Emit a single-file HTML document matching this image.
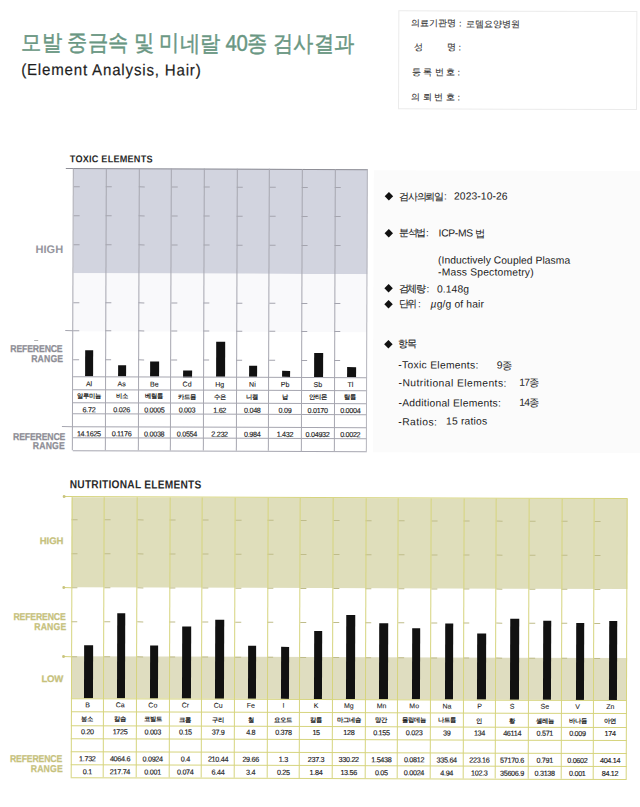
<!DOCTYPE html>
<html><head><meta charset="utf-8"><title>Hair Analysis</title>
<style>
html,body{margin:0;padding:0;background:#fff;}
body{width:640px;height:807px;overflow:hidden;position:relative;font-family:'Liberation Sans', sans-serif;}
#pg{position:absolute;left:0;top:0;width:640px;height:807px;transform:rotate(0.2deg);transform-origin:320px 403px;}
.t{position:absolute;white-space:nowrap;line-height:1;}
.r{position:absolute;}
</style></head><body><div id="pg">
<div class="t" style="top:32.50px;font-size:22.5px;color:#6a9783;font-weight:normal;transform:scaleX(0.9);transform-origin:left center;letter-spacing:-0.38px;left:20.07px;-webkit-text-stroke:0.45px #6a9783;">모발 중금속 및 미네랄 40종 검사결과</div>
<div class="t" style="top:62.70px;font-size:16px;color:#1e1e1e;font-weight:normal;transform:scaleX(0.94);transform-origin:left center;letter-spacing:0.88px;left:20.35px;-webkit-text-stroke:0.2px #1e1e1e;">(Element Analysis, Hair)</div>
<div class="r" style="left:397px;top:10px;width:239px;height:99px;border:1px solid #ebebeb;box-sizing:border-box;"></div>
<div class="t" style="top:18.56px;font-size:9px;color:#333;font-weight:normal;left:410.18px;-webkit-text-stroke:0.1px #333;">의료기관명 :&nbsp; 로뎀요양병원</div>
<div class="t" style="top:43.35px;font-size:9px;color:#333;font-weight:normal;left:412.77px;-webkit-text-stroke:0.1px #333;">성</div>
<div class="t" style="top:43.24px;font-size:9px;color:#333;font-weight:normal;left:445.77px;-webkit-text-stroke:0.1px #333;">명 :</div>
<div class="t" style="top:68.06px;font-size:9px;color:#333;font-weight:normal;left:410.36px;-webkit-text-stroke:0.1px #333;">등 록 번 호 :</div>
<div class="t" style="top:93.06px;font-size:9px;color:#333;font-weight:normal;left:410.44px;-webkit-text-stroke:0.1px #333;">의 뢰 번 호 :</div>
<div class="t" style="top:155.21px;font-size:10px;color:#2a2a2a;font-weight:bold;transform:scaleX(0.91);transform-origin:left center;letter-spacing:0.25px;left:68.56px;">TOXIC ELEMENTS</div>
<div class="r" style="left:72.67px;top:169.30px;width:294.03px;height:104.40px;background:#d2d4df;"></div>
<div class="r" style="left:72.67px;top:273.70px;width:294.03px;height:58.00px;background:#f9f9fb;"></div>
<div class="r" style="left:65.00px;top:168.80px;width:301.70px;height:1.00px;background:#8e8e96;"></div>
<div class="r" style="left:72.67px;top:187.10px;width:6.00px;height:1.00px;background:#a4a4ae;"></div>
<div class="r" style="left:72.67px;top:216.00px;width:6.00px;height:1.00px;background:#a4a4ae;"></div>
<div class="r" style="left:72.67px;top:244.60px;width:6.00px;height:1.00px;background:#a4a4ae;"></div>
<div class="r" style="left:72.67px;top:302.50px;width:6.00px;height:1.00px;background:#a4a4ae;"></div>
<div class="r" style="left:72.67px;top:331.20px;width:6.00px;height:1.00px;background:#a4a4ae;"></div>
<div class="r" style="left:72.67px;top:360.10px;width:6.00px;height:1.00px;background:#a4a4ae;"></div>
<div class="r" style="left:105.34px;top:187.10px;width:6.00px;height:1.00px;background:#a4a4ae;"></div>
<div class="r" style="left:105.34px;top:216.00px;width:6.00px;height:1.00px;background:#a4a4ae;"></div>
<div class="r" style="left:105.34px;top:244.60px;width:6.00px;height:1.00px;background:#a4a4ae;"></div>
<div class="r" style="left:105.34px;top:302.50px;width:6.00px;height:1.00px;background:#a4a4ae;"></div>
<div class="r" style="left:105.34px;top:331.20px;width:6.00px;height:1.00px;background:#a4a4ae;"></div>
<div class="r" style="left:105.34px;top:360.10px;width:6.00px;height:1.00px;background:#a4a4ae;"></div>
<div class="r" style="left:138.01px;top:187.10px;width:6.00px;height:1.00px;background:#a4a4ae;"></div>
<div class="r" style="left:138.01px;top:216.00px;width:6.00px;height:1.00px;background:#a4a4ae;"></div>
<div class="r" style="left:138.01px;top:244.60px;width:6.00px;height:1.00px;background:#a4a4ae;"></div>
<div class="r" style="left:138.01px;top:302.50px;width:6.00px;height:1.00px;background:#a4a4ae;"></div>
<div class="r" style="left:138.01px;top:331.20px;width:6.00px;height:1.00px;background:#a4a4ae;"></div>
<div class="r" style="left:138.01px;top:360.10px;width:6.00px;height:1.00px;background:#a4a4ae;"></div>
<div class="r" style="left:170.68px;top:187.10px;width:6.00px;height:1.00px;background:#a4a4ae;"></div>
<div class="r" style="left:170.68px;top:216.00px;width:6.00px;height:1.00px;background:#a4a4ae;"></div>
<div class="r" style="left:170.68px;top:244.60px;width:6.00px;height:1.00px;background:#a4a4ae;"></div>
<div class="r" style="left:170.68px;top:302.50px;width:6.00px;height:1.00px;background:#a4a4ae;"></div>
<div class="r" style="left:170.68px;top:331.20px;width:6.00px;height:1.00px;background:#a4a4ae;"></div>
<div class="r" style="left:170.68px;top:360.10px;width:6.00px;height:1.00px;background:#a4a4ae;"></div>
<div class="r" style="left:203.35px;top:187.10px;width:6.00px;height:1.00px;background:#a4a4ae;"></div>
<div class="r" style="left:203.35px;top:216.00px;width:6.00px;height:1.00px;background:#a4a4ae;"></div>
<div class="r" style="left:203.35px;top:244.60px;width:6.00px;height:1.00px;background:#a4a4ae;"></div>
<div class="r" style="left:203.35px;top:302.50px;width:6.00px;height:1.00px;background:#a4a4ae;"></div>
<div class="r" style="left:203.35px;top:331.20px;width:6.00px;height:1.00px;background:#a4a4ae;"></div>
<div class="r" style="left:203.35px;top:360.10px;width:6.00px;height:1.00px;background:#a4a4ae;"></div>
<div class="r" style="left:236.02px;top:187.10px;width:6.00px;height:1.00px;background:#a4a4ae;"></div>
<div class="r" style="left:236.02px;top:216.00px;width:6.00px;height:1.00px;background:#a4a4ae;"></div>
<div class="r" style="left:236.02px;top:244.60px;width:6.00px;height:1.00px;background:#a4a4ae;"></div>
<div class="r" style="left:236.02px;top:302.50px;width:6.00px;height:1.00px;background:#a4a4ae;"></div>
<div class="r" style="left:236.02px;top:331.20px;width:6.00px;height:1.00px;background:#a4a4ae;"></div>
<div class="r" style="left:236.02px;top:360.10px;width:6.00px;height:1.00px;background:#a4a4ae;"></div>
<div class="r" style="left:268.69px;top:187.10px;width:6.00px;height:1.00px;background:#a4a4ae;"></div>
<div class="r" style="left:268.69px;top:216.00px;width:6.00px;height:1.00px;background:#a4a4ae;"></div>
<div class="r" style="left:268.69px;top:244.60px;width:6.00px;height:1.00px;background:#a4a4ae;"></div>
<div class="r" style="left:268.69px;top:302.50px;width:6.00px;height:1.00px;background:#a4a4ae;"></div>
<div class="r" style="left:268.69px;top:331.20px;width:6.00px;height:1.00px;background:#a4a4ae;"></div>
<div class="r" style="left:268.69px;top:360.10px;width:6.00px;height:1.00px;background:#a4a4ae;"></div>
<div class="r" style="left:301.36px;top:187.10px;width:6.00px;height:1.00px;background:#a4a4ae;"></div>
<div class="r" style="left:301.36px;top:216.00px;width:6.00px;height:1.00px;background:#a4a4ae;"></div>
<div class="r" style="left:301.36px;top:244.60px;width:6.00px;height:1.00px;background:#a4a4ae;"></div>
<div class="r" style="left:301.36px;top:302.50px;width:6.00px;height:1.00px;background:#a4a4ae;"></div>
<div class="r" style="left:301.36px;top:331.20px;width:6.00px;height:1.00px;background:#a4a4ae;"></div>
<div class="r" style="left:301.36px;top:360.10px;width:6.00px;height:1.00px;background:#a4a4ae;"></div>
<div class="r" style="left:334.03px;top:187.10px;width:6.00px;height:1.00px;background:#a4a4ae;"></div>
<div class="r" style="left:334.03px;top:216.00px;width:6.00px;height:1.00px;background:#a4a4ae;"></div>
<div class="r" style="left:334.03px;top:244.60px;width:6.00px;height:1.00px;background:#a4a4ae;"></div>
<div class="r" style="left:334.03px;top:302.50px;width:6.00px;height:1.00px;background:#a4a4ae;"></div>
<div class="r" style="left:334.03px;top:331.20px;width:6.00px;height:1.00px;background:#a4a4ae;"></div>
<div class="r" style="left:334.03px;top:360.10px;width:6.00px;height:1.00px;background:#a4a4ae;"></div>
<div class="r" style="left:64.80px;top:331.20px;width:7.87px;height:1.00px;background:#a4a4ae;"></div>
<div class="r" style="left:84.90px;top:350.70px;width:8.50px;height:26.80px;background:#111;"></div>
<div class="r" style="left:117.68px;top:365.90px;width:8.50px;height:11.60px;background:#111;"></div>
<div class="r" style="left:150.46px;top:362.20px;width:8.50px;height:15.30px;background:#111;"></div>
<div class="r" style="left:183.24px;top:370.50px;width:8.50px;height:7.00px;background:#111;"></div>
<div class="r" style="left:216.02px;top:342.20px;width:8.50px;height:35.30px;background:#111;"></div>
<div class="r" style="left:248.80px;top:366.10px;width:8.50px;height:11.40px;background:#111;"></div>
<div class="r" style="left:281.58px;top:370.70px;width:8.50px;height:6.80px;background:#111;"></div>
<div class="r" style="left:314.36px;top:352.60px;width:8.50px;height:24.90px;background:#111;"></div>
<div class="r" style="left:347.14px;top:367.10px;width:8.50px;height:10.40px;background:#111;"></div>
<div class="r" style="left:72.67px;top:377.30px;width:294.03px;height:1.00px;background:#a6a6b0;"></div>
<div class="r" style="left:72.67px;top:389.90px;width:294.03px;height:1.00px;background:#a6a6b0;"></div>
<div class="r" style="left:72.67px;top:402.50px;width:294.03px;height:1.00px;background:#a6a6b0;"></div>
<div class="r" style="left:72.67px;top:414.30px;width:294.03px;height:1.00px;background:#a6a6b0;"></div>
<div class="r" style="left:72.67px;top:426.50px;width:294.03px;height:1.00px;background:#a6a6b0;"></div>
<div class="r" style="left:72.67px;top:438.10px;width:294.03px;height:1.00px;background:#a6a6b0;"></div>
<div class="r" style="left:72.67px;top:450.80px;width:294.03px;height:1.00px;background:#a6a6b0;"></div>
<div class="r" style="left:62.40px;top:426.50px;width:10.27px;height:1.00px;background:#a6a6b0;"></div>
<div class="r" style="left:72.17px;top:169.30px;width:1.00px;height:282.00px;background:#a6a6b0;"></div>
<div class="r" style="left:104.84px;top:169.30px;width:1.00px;height:282.00px;background:#a6a6b0;"></div>
<div class="r" style="left:137.51px;top:169.30px;width:1.00px;height:282.00px;background:#a6a6b0;"></div>
<div class="r" style="left:170.18px;top:169.30px;width:1.00px;height:282.00px;background:#a6a6b0;"></div>
<div class="r" style="left:202.85px;top:169.30px;width:1.00px;height:282.00px;background:#a6a6b0;"></div>
<div class="r" style="left:235.52px;top:169.30px;width:1.00px;height:282.00px;background:#a6a6b0;"></div>
<div class="r" style="left:268.19px;top:169.30px;width:1.00px;height:282.00px;background:#a6a6b0;"></div>
<div class="r" style="left:300.86px;top:169.30px;width:1.00px;height:282.00px;background:#a6a6b0;"></div>
<div class="r" style="left:333.53px;top:169.30px;width:1.00px;height:282.00px;background:#a6a6b0;"></div>
<div class="r" style="left:366.20px;top:169.30px;width:1.00px;height:282.00px;background:#b4b4bc;"></div>
<div class="t" style="top:381.27px;font-size:7px;color:#222;font-weight:normal;left:72.67px;width:32.67px;text-align:center;-webkit-text-stroke:0.12px #222;">Al</div>
<div class="t" style="top:393.97px;font-size:6.3px;color:#222;font-weight:bold;left:72.67px;width:32.67px;text-align:center;">알루미늄</div>
<div class="t" style="top:406.76px;font-size:7.2px;color:#222;font-weight:normal;letter-spacing:-0.3px;left:72.67px;width:32.67px;text-align:center;-webkit-text-stroke:0.15px #222;">6.72</div>
<div class="t" style="top:431.01px;font-size:7.2px;color:#222;font-weight:normal;letter-spacing:-0.3px;left:72.67px;width:32.67px;text-align:center;-webkit-text-stroke:0.15px #222;">14.1625</div>
<div class="t" style="top:381.27px;font-size:7px;color:#222;font-weight:normal;left:105.34px;width:32.67px;text-align:center;-webkit-text-stroke:0.12px #222;">As</div>
<div class="t" style="top:393.97px;font-size:6.3px;color:#222;font-weight:bold;left:105.34px;width:32.67px;text-align:center;">비소</div>
<div class="t" style="top:406.76px;font-size:7.2px;color:#222;font-weight:normal;letter-spacing:-0.3px;left:105.34px;width:32.67px;text-align:center;-webkit-text-stroke:0.15px #222;">0.026</div>
<div class="t" style="top:431.01px;font-size:7.2px;color:#222;font-weight:normal;letter-spacing:-0.3px;left:105.34px;width:32.67px;text-align:center;-webkit-text-stroke:0.15px #222;">0.1176</div>
<div class="t" style="top:381.27px;font-size:7px;color:#222;font-weight:normal;left:138.01px;width:32.67px;text-align:center;-webkit-text-stroke:0.12px #222;">Be</div>
<div class="t" style="top:393.97px;font-size:6.3px;color:#222;font-weight:bold;left:138.01px;width:32.67px;text-align:center;">베릴륨</div>
<div class="t" style="top:406.76px;font-size:7.2px;color:#222;font-weight:normal;letter-spacing:-0.3px;left:138.01px;width:32.67px;text-align:center;-webkit-text-stroke:0.15px #222;">0.0005</div>
<div class="t" style="top:431.01px;font-size:7.2px;color:#222;font-weight:normal;letter-spacing:-0.3px;left:138.01px;width:32.67px;text-align:center;-webkit-text-stroke:0.15px #222;">0.0038</div>
<div class="t" style="top:381.27px;font-size:7px;color:#222;font-weight:normal;left:170.68px;width:32.67px;text-align:center;-webkit-text-stroke:0.12px #222;">Cd</div>
<div class="t" style="top:393.97px;font-size:6.3px;color:#222;font-weight:bold;left:170.68px;width:32.67px;text-align:center;">카드뮴</div>
<div class="t" style="top:406.76px;font-size:7.2px;color:#222;font-weight:normal;letter-spacing:-0.3px;left:170.68px;width:32.67px;text-align:center;-webkit-text-stroke:0.15px #222;">0.003</div>
<div class="t" style="top:431.01px;font-size:7.2px;color:#222;font-weight:normal;letter-spacing:-0.3px;left:170.68px;width:32.67px;text-align:center;-webkit-text-stroke:0.15px #222;">0.0554</div>
<div class="t" style="top:381.27px;font-size:7px;color:#222;font-weight:normal;left:203.35px;width:32.67px;text-align:center;-webkit-text-stroke:0.12px #222;">Hg</div>
<div class="t" style="top:393.97px;font-size:6.3px;color:#222;font-weight:bold;left:203.35px;width:32.67px;text-align:center;">수은</div>
<div class="t" style="top:406.76px;font-size:7.2px;color:#222;font-weight:normal;letter-spacing:-0.3px;left:203.35px;width:32.67px;text-align:center;-webkit-text-stroke:0.15px #222;">1.62</div>
<div class="t" style="top:431.01px;font-size:7.2px;color:#222;font-weight:normal;letter-spacing:-0.3px;left:203.35px;width:32.67px;text-align:center;-webkit-text-stroke:0.15px #222;">2.232</div>
<div class="t" style="top:381.27px;font-size:7px;color:#222;font-weight:normal;left:236.02px;width:32.67px;text-align:center;-webkit-text-stroke:0.12px #222;">Ni</div>
<div class="t" style="top:393.97px;font-size:6.3px;color:#222;font-weight:bold;left:236.02px;width:32.67px;text-align:center;">니켈</div>
<div class="t" style="top:406.76px;font-size:7.2px;color:#222;font-weight:normal;letter-spacing:-0.3px;left:236.02px;width:32.67px;text-align:center;-webkit-text-stroke:0.15px #222;">0.048</div>
<div class="t" style="top:431.01px;font-size:7.2px;color:#222;font-weight:normal;letter-spacing:-0.3px;left:236.02px;width:32.67px;text-align:center;-webkit-text-stroke:0.15px #222;">0.984</div>
<div class="t" style="top:381.27px;font-size:7px;color:#222;font-weight:normal;left:268.69px;width:32.67px;text-align:center;-webkit-text-stroke:0.12px #222;">Pb</div>
<div class="t" style="top:393.97px;font-size:6.3px;color:#222;font-weight:bold;left:268.69px;width:32.67px;text-align:center;">납</div>
<div class="t" style="top:406.76px;font-size:7.2px;color:#222;font-weight:normal;letter-spacing:-0.3px;left:268.69px;width:32.67px;text-align:center;-webkit-text-stroke:0.15px #222;">0.09</div>
<div class="t" style="top:431.01px;font-size:7.2px;color:#222;font-weight:normal;letter-spacing:-0.3px;left:268.69px;width:32.67px;text-align:center;-webkit-text-stroke:0.15px #222;">1.432</div>
<div class="t" style="top:381.27px;font-size:7px;color:#222;font-weight:normal;left:301.36px;width:32.67px;text-align:center;-webkit-text-stroke:0.12px #222;">Sb</div>
<div class="t" style="top:393.97px;font-size:6.3px;color:#222;font-weight:bold;left:301.36px;width:32.67px;text-align:center;">안티몬</div>
<div class="t" style="top:406.76px;font-size:7.2px;color:#222;font-weight:normal;letter-spacing:-0.3px;left:301.36px;width:32.67px;text-align:center;-webkit-text-stroke:0.15px #222;">0.0170</div>
<div class="t" style="top:431.01px;font-size:7.2px;color:#222;font-weight:normal;letter-spacing:-0.3px;left:301.36px;width:32.67px;text-align:center;-webkit-text-stroke:0.15px #222;">0.04932</div>
<div class="t" style="top:381.27px;font-size:7px;color:#222;font-weight:normal;left:334.03px;width:32.67px;text-align:center;-webkit-text-stroke:0.12px #222;">Tl</div>
<div class="t" style="top:393.97px;font-size:6.3px;color:#222;font-weight:bold;left:334.03px;width:32.67px;text-align:center;">탈륨</div>
<div class="t" style="top:406.76px;font-size:7.2px;color:#222;font-weight:normal;letter-spacing:-0.3px;left:334.03px;width:32.67px;text-align:center;-webkit-text-stroke:0.15px #222;">0.0004</div>
<div class="t" style="top:431.01px;font-size:7.2px;color:#222;font-weight:normal;letter-spacing:-0.3px;left:334.03px;width:32.67px;text-align:center;-webkit-text-stroke:0.15px #222;">0.0022</div>
<div class="t" style="top:245.19px;font-size:11px;color:#96969e;font-weight:bold;right:577.42px;text-align:right;">HIGH</div>
<div class="t" style="top:344.94px;font-size:10px;color:#8d8d95;font-weight:bold;transform:scaleX(0.865);transform-origin:right center;letter-spacing:-0.15px;right:577.58px;text-align:right;-webkit-text-stroke:0.25px #8d8d95;">REFERENCE</div>
<div class="t" style="top:354.83px;font-size:10px;color:#8d8d95;font-weight:bold;transform:scaleX(0.865);transform-origin:right center;letter-spacing:0.2px;right:577.14px;text-align:right;-webkit-text-stroke:0.25px #8d8d95;">RANGE</div>
<div class="r" style="left:34.00px;top:340.70px;width:4.40px;height:1.00px;background:#b0b0b0;"></div>
<div class="t" style="top:432.63px;font-size:10px;color:#8d8d95;font-weight:bold;transform:scaleX(0.865);transform-origin:right center;letter-spacing:-0.15px;right:574.87px;text-align:right;-webkit-text-stroke:0.25px #8d8d95;">REFERENCE</div>
<div class="t" style="top:442.23px;font-size:10px;color:#8d8d95;font-weight:bold;transform:scaleX(0.865);transform-origin:right center;letter-spacing:0.2px;right:574.64px;text-align:right;-webkit-text-stroke:0.25px #8d8d95;">RANGE</div>
<div class="r" style="left:373px;top:170px;width:267px;height:282px;background:#fbfbfb;"></div>
<div class="r" style="left:384.58px;top:192.76px;width:6.4px;height:6.4px;background:#111;transform:rotate(45deg);"></div>
<div class="t" style="top:191.56px;font-size:10px;color:#222;font-weight:normal;letter-spacing:-1.3px;left:398.59px;-webkit-text-stroke:0.1px #222;">검사의뢰일</div>
<div class="t" style="top:191.40px;font-size:10px;color:#222;font-weight:normal;left:443.19px;">:</div>
<div class="t" style="top:191.11px;font-size:10.3px;color:#222;font-weight:normal;letter-spacing:0.1px;left:453.29px;">2023-10-26</div>
<div class="r" style="left:384.70px;top:229.56px;width:6.4px;height:6.4px;background:#111;transform:rotate(45deg);"></div>
<div class="t" style="top:228.36px;font-size:10px;color:#222;font-weight:normal;letter-spacing:-1.3px;left:398.42px;-webkit-text-stroke:0.1px #222;">분석법</div>
<div class="t" style="top:228.26px;font-size:10px;color:#222;font-weight:normal;left:425.42px;">:</div>
<div class="t" style="top:227.97px;font-size:10.3px;color:#222;font-weight:normal;letter-spacing:-0.3px;left:438.02px;">ICP-MS 법</div>
<div class="t" style="top:255.37px;font-size:10.3px;color:#222;font-weight:normal;letter-spacing:0.06px;left:437.62px;">(Inductively Coupled Plasma</div>
<div class="t" style="top:266.77px;font-size:10.3px;color:#222;font-weight:normal;letter-spacing:0.2px;left:437.66px;">-Mass Spectometry)</div>
<div class="r" style="left:384.80px;top:285.16px;width:6.4px;height:6.4px;background:#111;transform:rotate(45deg);"></div>
<div class="t" style="top:284.36px;font-size:10px;color:#222;font-weight:normal;letter-spacing:-1.3px;left:398.22px;-webkit-text-stroke:0.1px #222;">검체량</div>
<div class="t" style="top:284.26px;font-size:10px;color:#222;font-weight:normal;left:426.12px;">:</div>
<div class="t" style="top:283.97px;font-size:10.3px;color:#222;font-weight:normal;letter-spacing:0.1px;left:436.62px;">0.148g</div>
<div class="r" style="left:384.85px;top:300.56px;width:6.4px;height:6.4px;background:#111;transform:rotate(45deg);"></div>
<div class="t" style="top:299.36px;font-size:10px;color:#222;font-weight:normal;letter-spacing:-1.3px;left:398.27px;-webkit-text-stroke:0.1px #222;">단위</div>
<div class="t" style="top:299.29px;font-size:10px;color:#222;font-weight:normal;left:417.67px;">:</div>
<div class="t" style="top:298.99px;font-size:10.3px;color:#222;font-weight:normal;letter-spacing:0.15px;left:430.27px;"><i>µ</i>g/g of hair</div>
<div class="r" style="left:384.59px;top:340.56px;width:6.4px;height:6.4px;background:#111;transform:rotate(45deg);"></div>
<div class="t" style="top:339.16px;font-size:10px;color:#222;font-weight:normal;letter-spacing:-1.3px;left:397.81px;-webkit-text-stroke:0.1px #222;">항목</div>
<div class="t" style="top:360.01px;font-size:10.3px;color:#222;font-weight:normal;letter-spacing:0.3px;left:398.18px;">-Toxic Elements:</div>
<div class="t" style="top:359.66px;font-size:10.3px;color:#222;font-weight:normal;letter-spacing:-0.6px;left:496.58px;">9종</div>
<div class="t" style="top:377.51px;font-size:10.3px;color:#222;font-weight:normal;letter-spacing:0.45px;left:398.44px;">-Nutritional Elements:</div>
<div class="t" style="top:377.08px;font-size:10.3px;color:#222;font-weight:normal;letter-spacing:-0.6px;left:519.14px;">17종</div>
<div class="t" style="top:397.71px;font-size:10.3px;color:#222;font-weight:normal;letter-spacing:0.25px;left:398.51px;">-Additional Elements:</div>
<div class="t" style="top:397.28px;font-size:10.3px;color:#222;font-weight:normal;letter-spacing:-0.6px;left:519.21px;">14종</div>
<div class="t" style="top:416.51px;font-size:10.3px;color:#222;font-weight:normal;letter-spacing:0.45px;left:398.38px;">-Ratios:</div>
<div class="t" style="top:416.34px;font-size:10.3px;color:#222;font-weight:normal;letter-spacing:0.2px;left:446.08px;">15 ratios</div>
<div class="t" style="top:479.46px;font-size:11.6px;color:#2a2a2a;font-weight:bold;transform:scaleX(0.875);transform-origin:left center;letter-spacing:0.3px;left:70.10px;">NUTRITIONAL ELEMENTS</div>
<div class="r" style="left:72.25px;top:497.70px;width:555.39px;height:90.60px;background:#dfdebb;"></div>
<div class="r" style="left:72.25px;top:657.20px;width:555.39px;height:42.20px;background:#dfddc0;"></div>
<div class="r" style="left:64.30px;top:497.20px;width:563.34px;height:1.00px;background:#d6d47e;"></div>
<div class="r" style="left:64.30px;top:587.80px;width:7.95px;height:1.00px;background:#d6d47e;"></div>
<div class="r" style="left:64.30px;top:656.70px;width:7.95px;height:1.00px;background:#d6d47e;"></div>
<div class="r" style="left:62.8px;top:496.20px;width:3px;height:3px;border-radius:50%;background:#c9c47e"></div>
<div class="r" style="left:62.8px;top:586.80px;width:3px;height:3px;border-radius:50%;background:#c9c47e"></div>
<div class="r" style="left:62.8px;top:655.70px;width:3px;height:3px;border-radius:50%;background:#c9c47e"></div>
<div class="r" style="left:72.25px;top:520.30px;width:6.00px;height:1.00px;background:#bfbc8a;"></div>
<div class="r" style="left:72.25px;top:554.40px;width:6.00px;height:1.00px;background:#bfbc8a;"></div>
<div class="r" style="left:72.25px;top:587.80px;width:6.00px;height:1.00px;background:#bfbc8a;"></div>
<div class="r" style="left:72.25px;top:622.30px;width:6.00px;height:1.00px;background:#bfbc8a;"></div>
<div class="r" style="left:72.25px;top:656.70px;width:6.00px;height:1.00px;background:#bfbc8a;"></div>
<div class="r" style="left:104.92px;top:520.30px;width:6.00px;height:1.00px;background:#bfbc8a;"></div>
<div class="r" style="left:104.92px;top:554.40px;width:6.00px;height:1.00px;background:#bfbc8a;"></div>
<div class="r" style="left:104.92px;top:587.80px;width:6.00px;height:1.00px;background:#bfbc8a;"></div>
<div class="r" style="left:104.92px;top:622.30px;width:6.00px;height:1.00px;background:#bfbc8a;"></div>
<div class="r" style="left:104.92px;top:656.70px;width:6.00px;height:1.00px;background:#bfbc8a;"></div>
<div class="r" style="left:137.59px;top:520.30px;width:6.00px;height:1.00px;background:#bfbc8a;"></div>
<div class="r" style="left:137.59px;top:554.40px;width:6.00px;height:1.00px;background:#bfbc8a;"></div>
<div class="r" style="left:137.59px;top:587.80px;width:6.00px;height:1.00px;background:#bfbc8a;"></div>
<div class="r" style="left:137.59px;top:622.30px;width:6.00px;height:1.00px;background:#bfbc8a;"></div>
<div class="r" style="left:137.59px;top:656.70px;width:6.00px;height:1.00px;background:#bfbc8a;"></div>
<div class="r" style="left:170.26px;top:520.30px;width:6.00px;height:1.00px;background:#bfbc8a;"></div>
<div class="r" style="left:170.26px;top:554.40px;width:6.00px;height:1.00px;background:#bfbc8a;"></div>
<div class="r" style="left:170.26px;top:587.80px;width:6.00px;height:1.00px;background:#bfbc8a;"></div>
<div class="r" style="left:170.26px;top:622.30px;width:6.00px;height:1.00px;background:#bfbc8a;"></div>
<div class="r" style="left:170.26px;top:656.70px;width:6.00px;height:1.00px;background:#bfbc8a;"></div>
<div class="r" style="left:202.93px;top:520.30px;width:6.00px;height:1.00px;background:#bfbc8a;"></div>
<div class="r" style="left:202.93px;top:554.40px;width:6.00px;height:1.00px;background:#bfbc8a;"></div>
<div class="r" style="left:202.93px;top:587.80px;width:6.00px;height:1.00px;background:#bfbc8a;"></div>
<div class="r" style="left:202.93px;top:622.30px;width:6.00px;height:1.00px;background:#bfbc8a;"></div>
<div class="r" style="left:202.93px;top:656.70px;width:6.00px;height:1.00px;background:#bfbc8a;"></div>
<div class="r" style="left:235.60px;top:520.30px;width:6.00px;height:1.00px;background:#bfbc8a;"></div>
<div class="r" style="left:235.60px;top:554.40px;width:6.00px;height:1.00px;background:#bfbc8a;"></div>
<div class="r" style="left:235.60px;top:587.80px;width:6.00px;height:1.00px;background:#bfbc8a;"></div>
<div class="r" style="left:235.60px;top:622.30px;width:6.00px;height:1.00px;background:#bfbc8a;"></div>
<div class="r" style="left:235.60px;top:656.70px;width:6.00px;height:1.00px;background:#bfbc8a;"></div>
<div class="r" style="left:268.27px;top:520.30px;width:6.00px;height:1.00px;background:#bfbc8a;"></div>
<div class="r" style="left:268.27px;top:554.40px;width:6.00px;height:1.00px;background:#bfbc8a;"></div>
<div class="r" style="left:268.27px;top:587.80px;width:6.00px;height:1.00px;background:#bfbc8a;"></div>
<div class="r" style="left:268.27px;top:622.30px;width:6.00px;height:1.00px;background:#bfbc8a;"></div>
<div class="r" style="left:268.27px;top:656.70px;width:6.00px;height:1.00px;background:#bfbc8a;"></div>
<div class="r" style="left:300.94px;top:520.30px;width:6.00px;height:1.00px;background:#bfbc8a;"></div>
<div class="r" style="left:300.94px;top:554.40px;width:6.00px;height:1.00px;background:#bfbc8a;"></div>
<div class="r" style="left:300.94px;top:587.80px;width:6.00px;height:1.00px;background:#bfbc8a;"></div>
<div class="r" style="left:300.94px;top:622.30px;width:6.00px;height:1.00px;background:#bfbc8a;"></div>
<div class="r" style="left:300.94px;top:656.70px;width:6.00px;height:1.00px;background:#bfbc8a;"></div>
<div class="r" style="left:333.61px;top:520.30px;width:6.00px;height:1.00px;background:#bfbc8a;"></div>
<div class="r" style="left:333.61px;top:554.40px;width:6.00px;height:1.00px;background:#bfbc8a;"></div>
<div class="r" style="left:333.61px;top:587.80px;width:6.00px;height:1.00px;background:#bfbc8a;"></div>
<div class="r" style="left:333.61px;top:622.30px;width:6.00px;height:1.00px;background:#bfbc8a;"></div>
<div class="r" style="left:333.61px;top:656.70px;width:6.00px;height:1.00px;background:#bfbc8a;"></div>
<div class="r" style="left:366.28px;top:520.30px;width:6.00px;height:1.00px;background:#bfbc8a;"></div>
<div class="r" style="left:366.28px;top:554.40px;width:6.00px;height:1.00px;background:#bfbc8a;"></div>
<div class="r" style="left:366.28px;top:587.80px;width:6.00px;height:1.00px;background:#bfbc8a;"></div>
<div class="r" style="left:366.28px;top:622.30px;width:6.00px;height:1.00px;background:#bfbc8a;"></div>
<div class="r" style="left:366.28px;top:656.70px;width:6.00px;height:1.00px;background:#bfbc8a;"></div>
<div class="r" style="left:398.95px;top:520.30px;width:6.00px;height:1.00px;background:#bfbc8a;"></div>
<div class="r" style="left:398.95px;top:554.40px;width:6.00px;height:1.00px;background:#bfbc8a;"></div>
<div class="r" style="left:398.95px;top:587.80px;width:6.00px;height:1.00px;background:#bfbc8a;"></div>
<div class="r" style="left:398.95px;top:622.30px;width:6.00px;height:1.00px;background:#bfbc8a;"></div>
<div class="r" style="left:398.95px;top:656.70px;width:6.00px;height:1.00px;background:#bfbc8a;"></div>
<div class="r" style="left:431.62px;top:520.30px;width:6.00px;height:1.00px;background:#bfbc8a;"></div>
<div class="r" style="left:431.62px;top:554.40px;width:6.00px;height:1.00px;background:#bfbc8a;"></div>
<div class="r" style="left:431.62px;top:587.80px;width:6.00px;height:1.00px;background:#bfbc8a;"></div>
<div class="r" style="left:431.62px;top:622.30px;width:6.00px;height:1.00px;background:#bfbc8a;"></div>
<div class="r" style="left:431.62px;top:656.70px;width:6.00px;height:1.00px;background:#bfbc8a;"></div>
<div class="r" style="left:464.29px;top:520.30px;width:6.00px;height:1.00px;background:#bfbc8a;"></div>
<div class="r" style="left:464.29px;top:554.40px;width:6.00px;height:1.00px;background:#bfbc8a;"></div>
<div class="r" style="left:464.29px;top:587.80px;width:6.00px;height:1.00px;background:#bfbc8a;"></div>
<div class="r" style="left:464.29px;top:622.30px;width:6.00px;height:1.00px;background:#bfbc8a;"></div>
<div class="r" style="left:464.29px;top:656.70px;width:6.00px;height:1.00px;background:#bfbc8a;"></div>
<div class="r" style="left:496.96px;top:520.30px;width:6.00px;height:1.00px;background:#bfbc8a;"></div>
<div class="r" style="left:496.96px;top:554.40px;width:6.00px;height:1.00px;background:#bfbc8a;"></div>
<div class="r" style="left:496.96px;top:587.80px;width:6.00px;height:1.00px;background:#bfbc8a;"></div>
<div class="r" style="left:496.96px;top:622.30px;width:6.00px;height:1.00px;background:#bfbc8a;"></div>
<div class="r" style="left:496.96px;top:656.70px;width:6.00px;height:1.00px;background:#bfbc8a;"></div>
<div class="r" style="left:529.63px;top:520.30px;width:6.00px;height:1.00px;background:#bfbc8a;"></div>
<div class="r" style="left:529.63px;top:554.40px;width:6.00px;height:1.00px;background:#bfbc8a;"></div>
<div class="r" style="left:529.63px;top:587.80px;width:6.00px;height:1.00px;background:#bfbc8a;"></div>
<div class="r" style="left:529.63px;top:622.30px;width:6.00px;height:1.00px;background:#bfbc8a;"></div>
<div class="r" style="left:529.63px;top:656.70px;width:6.00px;height:1.00px;background:#bfbc8a;"></div>
<div class="r" style="left:562.30px;top:520.30px;width:6.00px;height:1.00px;background:#bfbc8a;"></div>
<div class="r" style="left:562.30px;top:554.40px;width:6.00px;height:1.00px;background:#bfbc8a;"></div>
<div class="r" style="left:562.30px;top:587.80px;width:6.00px;height:1.00px;background:#bfbc8a;"></div>
<div class="r" style="left:562.30px;top:622.30px;width:6.00px;height:1.00px;background:#bfbc8a;"></div>
<div class="r" style="left:562.30px;top:656.70px;width:6.00px;height:1.00px;background:#bfbc8a;"></div>
<div class="r" style="left:594.97px;top:520.30px;width:6.00px;height:1.00px;background:#bfbc8a;"></div>
<div class="r" style="left:594.97px;top:554.40px;width:6.00px;height:1.00px;background:#bfbc8a;"></div>
<div class="r" style="left:594.97px;top:587.80px;width:6.00px;height:1.00px;background:#bfbc8a;"></div>
<div class="r" style="left:594.97px;top:622.30px;width:6.00px;height:1.00px;background:#bfbc8a;"></div>
<div class="r" style="left:594.97px;top:656.70px;width:6.00px;height:1.00px;background:#bfbc8a;"></div>
<div class="r" style="left:85.05px;top:646.00px;width:8.50px;height:53.40px;background:#111;"></div>
<div class="r" style="left:117.83px;top:614.00px;width:8.50px;height:85.40px;background:#111;"></div>
<div class="r" style="left:150.61px;top:646.30px;width:8.50px;height:53.10px;background:#111;"></div>
<div class="r" style="left:183.39px;top:627.10px;width:8.50px;height:72.30px;background:#111;"></div>
<div class="r" style="left:216.17px;top:619.50px;width:8.50px;height:79.90px;background:#111;"></div>
<div class="r" style="left:248.95px;top:645.90px;width:8.50px;height:53.50px;background:#111;"></div>
<div class="r" style="left:281.73px;top:647.40px;width:8.50px;height:52.00px;background:#111;"></div>
<div class="r" style="left:314.51px;top:631.30px;width:8.50px;height:68.10px;background:#111;"></div>
<div class="r" style="left:347.29px;top:615.00px;width:8.50px;height:84.40px;background:#111;"></div>
<div class="r" style="left:380.07px;top:623.20px;width:8.50px;height:76.20px;background:#111;"></div>
<div class="r" style="left:412.85px;top:628.40px;width:8.50px;height:71.00px;background:#111;"></div>
<div class="r" style="left:445.63px;top:623.00px;width:8.50px;height:76.40px;background:#111;"></div>
<div class="r" style="left:478.41px;top:632.60px;width:8.50px;height:66.80px;background:#111;"></div>
<div class="r" style="left:511.19px;top:617.90px;width:8.50px;height:81.50px;background:#111;"></div>
<div class="r" style="left:543.97px;top:620.10px;width:8.50px;height:79.30px;background:#111;"></div>
<div class="r" style="left:576.75px;top:621.80px;width:8.50px;height:77.60px;background:#111;"></div>
<div class="r" style="left:609.53px;top:620.00px;width:8.50px;height:79.40px;background:#111;"></div>
<div class="r" style="left:72.25px;top:699.00px;width:555.39px;height:1.00px;background:#d6d47e;"></div>
<div class="r" style="left:72.25px;top:712.30px;width:555.39px;height:1.00px;background:#d6d47e;"></div>
<div class="r" style="left:72.25px;top:726.00px;width:555.39px;height:1.00px;background:#d6d47e;"></div>
<div class="r" style="left:72.25px;top:738.50px;width:555.39px;height:1.00px;background:#d6d47e;"></div>
<div class="r" style="left:72.25px;top:751.50px;width:555.39px;height:1.00px;background:#d6d47e;"></div>
<div class="r" style="left:72.25px;top:764.80px;width:555.39px;height:1.00px;background:#d6d47e;"></div>
<div class="r" style="left:72.25px;top:777.80px;width:555.39px;height:1.00px;background:#d6d47e;"></div>
<div class="r" style="left:71.75px;top:497.70px;width:1.00px;height:280.60px;background:#d6d47e;"></div>
<div class="r" style="left:104.42px;top:497.70px;width:1.00px;height:280.60px;background:#d6d47e;"></div>
<div class="r" style="left:137.09px;top:497.70px;width:1.00px;height:280.60px;background:#d6d47e;"></div>
<div class="r" style="left:169.76px;top:497.70px;width:1.00px;height:280.60px;background:#d6d47e;"></div>
<div class="r" style="left:202.43px;top:497.70px;width:1.00px;height:280.60px;background:#d6d47e;"></div>
<div class="r" style="left:235.10px;top:497.70px;width:1.00px;height:280.60px;background:#d6d47e;"></div>
<div class="r" style="left:267.77px;top:497.70px;width:1.00px;height:280.60px;background:#d6d47e;"></div>
<div class="r" style="left:300.44px;top:497.70px;width:1.00px;height:280.60px;background:#d6d47e;"></div>
<div class="r" style="left:333.11px;top:497.70px;width:1.00px;height:280.60px;background:#d6d47e;"></div>
<div class="r" style="left:365.78px;top:497.70px;width:1.00px;height:280.60px;background:#d6d47e;"></div>
<div class="r" style="left:398.45px;top:497.70px;width:1.00px;height:280.60px;background:#d6d47e;"></div>
<div class="r" style="left:431.12px;top:497.70px;width:1.00px;height:280.60px;background:#d6d47e;"></div>
<div class="r" style="left:463.79px;top:497.70px;width:1.00px;height:280.60px;background:#d6d47e;"></div>
<div class="r" style="left:496.46px;top:497.70px;width:1.00px;height:280.60px;background:#d6d47e;"></div>
<div class="r" style="left:529.13px;top:497.70px;width:1.00px;height:280.60px;background:#d6d47e;"></div>
<div class="r" style="left:561.80px;top:497.70px;width:1.00px;height:280.60px;background:#d6d47e;"></div>
<div class="r" style="left:594.47px;top:497.70px;width:1.00px;height:280.60px;background:#d6d47e;"></div>
<div class="r" style="left:627.14px;top:497.70px;width:1.00px;height:280.60px;background:#d6d47e;"></div>
<div class="t" style="top:702.37px;font-size:7px;color:#222;font-weight:normal;left:72.25px;width:32.67px;text-align:center;-webkit-text-stroke:0.08px #222;">B</div>
<div class="t" style="top:717.07px;font-size:6.3px;color:#222;font-weight:bold;left:72.25px;width:32.67px;text-align:center;">붕소</div>
<div class="t" style="top:729.41px;font-size:7.2px;color:#222;font-weight:normal;letter-spacing:-0.3px;left:72.25px;width:32.67px;text-align:center;-webkit-text-stroke:0.15px #222;">0.20</div>
<div class="t" style="top:756.06px;font-size:7.2px;color:#222;font-weight:normal;letter-spacing:-0.3px;left:72.25px;width:32.67px;text-align:center;-webkit-text-stroke:0.15px #222;">1.732</div>
<div class="t" style="top:768.56px;font-size:7.2px;color:#222;font-weight:normal;letter-spacing:-0.3px;left:72.25px;width:32.67px;text-align:center;-webkit-text-stroke:0.15px #222;">0.1</div>
<div class="t" style="top:702.37px;font-size:7px;color:#222;font-weight:normal;left:104.92px;width:32.67px;text-align:center;-webkit-text-stroke:0.08px #222;">Ca</div>
<div class="t" style="top:717.07px;font-size:6.3px;color:#222;font-weight:bold;left:104.92px;width:32.67px;text-align:center;">칼슘</div>
<div class="t" style="top:729.41px;font-size:7.2px;color:#222;font-weight:normal;letter-spacing:-0.3px;left:104.92px;width:32.67px;text-align:center;-webkit-text-stroke:0.15px #222;">1725</div>
<div class="t" style="top:756.06px;font-size:7.2px;color:#222;font-weight:normal;letter-spacing:-0.3px;left:104.92px;width:32.67px;text-align:center;-webkit-text-stroke:0.15px #222;">4064.6</div>
<div class="t" style="top:768.56px;font-size:7.2px;color:#222;font-weight:normal;letter-spacing:-0.3px;left:104.92px;width:32.67px;text-align:center;-webkit-text-stroke:0.15px #222;">217.74</div>
<div class="t" style="top:702.37px;font-size:7px;color:#222;font-weight:normal;left:137.59px;width:32.67px;text-align:center;-webkit-text-stroke:0.08px #222;">Co</div>
<div class="t" style="top:717.07px;font-size:6.3px;color:#222;font-weight:bold;left:137.59px;width:32.67px;text-align:center;">코발트</div>
<div class="t" style="top:729.41px;font-size:7.2px;color:#222;font-weight:normal;letter-spacing:-0.3px;left:137.59px;width:32.67px;text-align:center;-webkit-text-stroke:0.15px #222;">0.003</div>
<div class="t" style="top:756.06px;font-size:7.2px;color:#222;font-weight:normal;letter-spacing:-0.3px;left:137.59px;width:32.67px;text-align:center;-webkit-text-stroke:0.15px #222;">0.0924</div>
<div class="t" style="top:768.56px;font-size:7.2px;color:#222;font-weight:normal;letter-spacing:-0.3px;left:137.59px;width:32.67px;text-align:center;-webkit-text-stroke:0.15px #222;">0.001</div>
<div class="t" style="top:702.37px;font-size:7px;color:#222;font-weight:normal;left:170.26px;width:32.67px;text-align:center;-webkit-text-stroke:0.08px #222;">Cr</div>
<div class="t" style="top:717.07px;font-size:6.3px;color:#222;font-weight:bold;left:170.26px;width:32.67px;text-align:center;">크롬</div>
<div class="t" style="top:729.41px;font-size:7.2px;color:#222;font-weight:normal;letter-spacing:-0.3px;left:170.26px;width:32.67px;text-align:center;-webkit-text-stroke:0.15px #222;">0.15</div>
<div class="t" style="top:756.06px;font-size:7.2px;color:#222;font-weight:normal;letter-spacing:-0.3px;left:170.26px;width:32.67px;text-align:center;-webkit-text-stroke:0.15px #222;">0.4</div>
<div class="t" style="top:768.56px;font-size:7.2px;color:#222;font-weight:normal;letter-spacing:-0.3px;left:170.26px;width:32.67px;text-align:center;-webkit-text-stroke:0.15px #222;">0.074</div>
<div class="t" style="top:702.37px;font-size:7px;color:#222;font-weight:normal;left:202.93px;width:32.67px;text-align:center;-webkit-text-stroke:0.08px #222;">Cu</div>
<div class="t" style="top:717.07px;font-size:6.3px;color:#222;font-weight:bold;left:202.93px;width:32.67px;text-align:center;">구리</div>
<div class="t" style="top:729.41px;font-size:7.2px;color:#222;font-weight:normal;letter-spacing:-0.3px;left:202.93px;width:32.67px;text-align:center;-webkit-text-stroke:0.15px #222;">37.9</div>
<div class="t" style="top:756.06px;font-size:7.2px;color:#222;font-weight:normal;letter-spacing:-0.3px;left:202.93px;width:32.67px;text-align:center;-webkit-text-stroke:0.15px #222;">210.44</div>
<div class="t" style="top:768.56px;font-size:7.2px;color:#222;font-weight:normal;letter-spacing:-0.3px;left:202.93px;width:32.67px;text-align:center;-webkit-text-stroke:0.15px #222;">6.44</div>
<div class="t" style="top:702.37px;font-size:7px;color:#222;font-weight:normal;left:235.60px;width:32.67px;text-align:center;-webkit-text-stroke:0.08px #222;">Fe</div>
<div class="t" style="top:717.07px;font-size:6.3px;color:#222;font-weight:bold;left:235.60px;width:32.67px;text-align:center;">철</div>
<div class="t" style="top:729.41px;font-size:7.2px;color:#222;font-weight:normal;letter-spacing:-0.3px;left:235.60px;width:32.67px;text-align:center;-webkit-text-stroke:0.15px #222;">4.8</div>
<div class="t" style="top:756.06px;font-size:7.2px;color:#222;font-weight:normal;letter-spacing:-0.3px;left:235.60px;width:32.67px;text-align:center;-webkit-text-stroke:0.15px #222;">29.66</div>
<div class="t" style="top:768.56px;font-size:7.2px;color:#222;font-weight:normal;letter-spacing:-0.3px;left:235.60px;width:32.67px;text-align:center;-webkit-text-stroke:0.15px #222;">3.4</div>
<div class="t" style="top:702.37px;font-size:7px;color:#222;font-weight:normal;left:268.27px;width:32.67px;text-align:center;-webkit-text-stroke:0.08px #222;">I</div>
<div class="t" style="top:717.07px;font-size:6.3px;color:#222;font-weight:bold;left:268.27px;width:32.67px;text-align:center;">요오드</div>
<div class="t" style="top:729.41px;font-size:7.2px;color:#222;font-weight:normal;letter-spacing:-0.3px;left:268.27px;width:32.67px;text-align:center;-webkit-text-stroke:0.15px #222;">0.378</div>
<div class="t" style="top:756.06px;font-size:7.2px;color:#222;font-weight:normal;letter-spacing:-0.3px;left:268.27px;width:32.67px;text-align:center;-webkit-text-stroke:0.15px #222;">1.3</div>
<div class="t" style="top:768.56px;font-size:7.2px;color:#222;font-weight:normal;letter-spacing:-0.3px;left:268.27px;width:32.67px;text-align:center;-webkit-text-stroke:0.15px #222;">0.25</div>
<div class="t" style="top:702.37px;font-size:7px;color:#222;font-weight:normal;left:300.94px;width:32.67px;text-align:center;-webkit-text-stroke:0.08px #222;">K</div>
<div class="t" style="top:717.07px;font-size:6.3px;color:#222;font-weight:bold;left:300.94px;width:32.67px;text-align:center;">칼륨</div>
<div class="t" style="top:729.41px;font-size:7.2px;color:#222;font-weight:normal;letter-spacing:-0.3px;left:300.94px;width:32.67px;text-align:center;-webkit-text-stroke:0.15px #222;">15</div>
<div class="t" style="top:756.06px;font-size:7.2px;color:#222;font-weight:normal;letter-spacing:-0.3px;left:300.94px;width:32.67px;text-align:center;-webkit-text-stroke:0.15px #222;">237.3</div>
<div class="t" style="top:768.56px;font-size:7.2px;color:#222;font-weight:normal;letter-spacing:-0.3px;left:300.94px;width:32.67px;text-align:center;-webkit-text-stroke:0.15px #222;">1.84</div>
<div class="t" style="top:702.37px;font-size:7px;color:#222;font-weight:normal;left:333.61px;width:32.67px;text-align:center;-webkit-text-stroke:0.08px #222;">Mg</div>
<div class="t" style="top:717.07px;font-size:6.3px;color:#222;font-weight:bold;left:333.61px;width:32.67px;text-align:center;">마그네슘</div>
<div class="t" style="top:729.41px;font-size:7.2px;color:#222;font-weight:normal;letter-spacing:-0.3px;left:333.61px;width:32.67px;text-align:center;-webkit-text-stroke:0.15px #222;">128</div>
<div class="t" style="top:756.06px;font-size:7.2px;color:#222;font-weight:normal;letter-spacing:-0.3px;left:333.61px;width:32.67px;text-align:center;-webkit-text-stroke:0.15px #222;">330.22</div>
<div class="t" style="top:768.56px;font-size:7.2px;color:#222;font-weight:normal;letter-spacing:-0.3px;left:333.61px;width:32.67px;text-align:center;-webkit-text-stroke:0.15px #222;">13.56</div>
<div class="t" style="top:702.37px;font-size:7px;color:#222;font-weight:normal;left:366.28px;width:32.67px;text-align:center;-webkit-text-stroke:0.08px #222;">Mn</div>
<div class="t" style="top:717.07px;font-size:6.3px;color:#222;font-weight:bold;left:366.28px;width:32.67px;text-align:center;">망간</div>
<div class="t" style="top:729.41px;font-size:7.2px;color:#222;font-weight:normal;letter-spacing:-0.3px;left:366.28px;width:32.67px;text-align:center;-webkit-text-stroke:0.15px #222;">0.155</div>
<div class="t" style="top:756.06px;font-size:7.2px;color:#222;font-weight:normal;letter-spacing:-0.3px;left:366.28px;width:32.67px;text-align:center;-webkit-text-stroke:0.15px #222;">1.5438</div>
<div class="t" style="top:768.56px;font-size:7.2px;color:#222;font-weight:normal;letter-spacing:-0.3px;left:366.28px;width:32.67px;text-align:center;-webkit-text-stroke:0.15px #222;">0.05</div>
<div class="t" style="top:702.37px;font-size:7px;color:#222;font-weight:normal;left:398.95px;width:32.67px;text-align:center;-webkit-text-stroke:0.08px #222;">Mo</div>
<div class="t" style="top:717.07px;font-size:6.3px;color:#222;font-weight:bold;left:398.95px;width:32.67px;text-align:center;">몰립데늄</div>
<div class="t" style="top:729.41px;font-size:7.2px;color:#222;font-weight:normal;letter-spacing:-0.3px;left:398.95px;width:32.67px;text-align:center;-webkit-text-stroke:0.15px #222;">0.023</div>
<div class="t" style="top:756.06px;font-size:7.2px;color:#222;font-weight:normal;letter-spacing:-0.3px;left:398.95px;width:32.67px;text-align:center;-webkit-text-stroke:0.15px #222;">0.0812</div>
<div class="t" style="top:768.56px;font-size:7.2px;color:#222;font-weight:normal;letter-spacing:-0.3px;left:398.95px;width:32.67px;text-align:center;-webkit-text-stroke:0.15px #222;">0.0024</div>
<div class="t" style="top:702.37px;font-size:7px;color:#222;font-weight:normal;left:431.62px;width:32.67px;text-align:center;-webkit-text-stroke:0.08px #222;">Na</div>
<div class="t" style="top:717.07px;font-size:6.3px;color:#222;font-weight:bold;left:431.62px;width:32.67px;text-align:center;">나트륨</div>
<div class="t" style="top:729.41px;font-size:7.2px;color:#222;font-weight:normal;letter-spacing:-0.3px;left:431.62px;width:32.67px;text-align:center;-webkit-text-stroke:0.15px #222;">39</div>
<div class="t" style="top:756.06px;font-size:7.2px;color:#222;font-weight:normal;letter-spacing:-0.3px;left:431.62px;width:32.67px;text-align:center;-webkit-text-stroke:0.15px #222;">335.64</div>
<div class="t" style="top:768.56px;font-size:7.2px;color:#222;font-weight:normal;letter-spacing:-0.3px;left:431.62px;width:32.67px;text-align:center;-webkit-text-stroke:0.15px #222;">4.94</div>
<div class="t" style="top:702.37px;font-size:7px;color:#222;font-weight:normal;left:464.29px;width:32.67px;text-align:center;-webkit-text-stroke:0.08px #222;">P</div>
<div class="t" style="top:717.07px;font-size:6.3px;color:#222;font-weight:bold;left:464.29px;width:32.67px;text-align:center;">인</div>
<div class="t" style="top:729.41px;font-size:7.2px;color:#222;font-weight:normal;letter-spacing:-0.3px;left:464.29px;width:32.67px;text-align:center;-webkit-text-stroke:0.15px #222;">134</div>
<div class="t" style="top:756.06px;font-size:7.2px;color:#222;font-weight:normal;letter-spacing:-0.3px;left:464.29px;width:32.67px;text-align:center;-webkit-text-stroke:0.15px #222;">223.16</div>
<div class="t" style="top:768.56px;font-size:7.2px;color:#222;font-weight:normal;letter-spacing:-0.3px;left:464.29px;width:32.67px;text-align:center;-webkit-text-stroke:0.15px #222;">102.3</div>
<div class="t" style="top:702.37px;font-size:7px;color:#222;font-weight:normal;left:496.96px;width:32.67px;text-align:center;-webkit-text-stroke:0.08px #222;">S</div>
<div class="t" style="top:717.07px;font-size:6.3px;color:#222;font-weight:bold;left:496.96px;width:32.67px;text-align:center;">황</div>
<div class="t" style="top:729.41px;font-size:7.2px;color:#222;font-weight:normal;letter-spacing:-0.3px;left:496.96px;width:32.67px;text-align:center;-webkit-text-stroke:0.15px #222;">46114</div>
<div class="t" style="top:756.06px;font-size:7.2px;color:#222;font-weight:normal;letter-spacing:-0.3px;left:496.96px;width:32.67px;text-align:center;-webkit-text-stroke:0.15px #222;">57170.6</div>
<div class="t" style="top:768.56px;font-size:7.2px;color:#222;font-weight:normal;letter-spacing:-0.3px;left:496.96px;width:32.67px;text-align:center;-webkit-text-stroke:0.15px #222;">35606.9</div>
<div class="t" style="top:702.37px;font-size:7px;color:#222;font-weight:normal;left:529.63px;width:32.67px;text-align:center;-webkit-text-stroke:0.08px #222;">Se</div>
<div class="t" style="top:717.07px;font-size:6.3px;color:#222;font-weight:bold;left:529.63px;width:32.67px;text-align:center;">셀레늄</div>
<div class="t" style="top:729.41px;font-size:7.2px;color:#222;font-weight:normal;letter-spacing:-0.3px;left:529.63px;width:32.67px;text-align:center;-webkit-text-stroke:0.15px #222;">0.571</div>
<div class="t" style="top:756.06px;font-size:7.2px;color:#222;font-weight:normal;letter-spacing:-0.3px;left:529.63px;width:32.67px;text-align:center;-webkit-text-stroke:0.15px #222;">0.791</div>
<div class="t" style="top:768.56px;font-size:7.2px;color:#222;font-weight:normal;letter-spacing:-0.3px;left:529.63px;width:32.67px;text-align:center;-webkit-text-stroke:0.15px #222;">0.3138</div>
<div class="t" style="top:702.37px;font-size:7px;color:#222;font-weight:normal;left:562.30px;width:32.67px;text-align:center;-webkit-text-stroke:0.08px #222;">V</div>
<div class="t" style="top:717.07px;font-size:6.3px;color:#222;font-weight:bold;left:562.30px;width:32.67px;text-align:center;">바나듐</div>
<div class="t" style="top:729.41px;font-size:7.2px;color:#222;font-weight:normal;letter-spacing:-0.3px;left:562.30px;width:32.67px;text-align:center;-webkit-text-stroke:0.15px #222;">0.009</div>
<div class="t" style="top:756.06px;font-size:7.2px;color:#222;font-weight:normal;letter-spacing:-0.3px;left:562.30px;width:32.67px;text-align:center;-webkit-text-stroke:0.15px #222;">0.0602</div>
<div class="t" style="top:768.56px;font-size:7.2px;color:#222;font-weight:normal;letter-spacing:-0.3px;left:562.30px;width:32.67px;text-align:center;-webkit-text-stroke:0.15px #222;">0.001</div>
<div class="t" style="top:702.37px;font-size:7px;color:#222;font-weight:normal;left:594.97px;width:32.67px;text-align:center;-webkit-text-stroke:0.08px #222;">Zn</div>
<div class="t" style="top:717.07px;font-size:6.3px;color:#222;font-weight:bold;left:594.97px;width:32.67px;text-align:center;">아연</div>
<div class="t" style="top:729.41px;font-size:7.2px;color:#222;font-weight:normal;letter-spacing:-0.3px;left:594.97px;width:32.67px;text-align:center;-webkit-text-stroke:0.15px #222;">174</div>
<div class="t" style="top:756.06px;font-size:7.2px;color:#222;font-weight:normal;letter-spacing:-0.3px;left:594.97px;width:32.67px;text-align:center;-webkit-text-stroke:0.15px #222;">404.14</div>
<div class="t" style="top:768.56px;font-size:7.2px;color:#222;font-weight:normal;letter-spacing:-0.3px;left:594.97px;width:32.67px;text-align:center;-webkit-text-stroke:0.15px #222;">84.12</div>
<div class="t" style="top:537.26px;font-size:9.5px;color:#c6c17c;font-weight:bold;right:576.11px;text-align:right;-webkit-text-stroke:0.25px #c6c17c;">HIGH</div>
<div class="t" style="top:612.73px;font-size:10px;color:#c6c17c;font-weight:bold;transform:scaleX(0.865);transform-origin:right center;letter-spacing:-0.15px;right:573.54px;text-align:right;-webkit-text-stroke:0.25px #c6c17c;">REFERENCE</div>
<div class="t" style="top:622.62px;font-size:10px;color:#c6c17c;font-weight:bold;transform:scaleX(0.865);transform-origin:right center;letter-spacing:0.2px;right:573.20px;text-align:right;-webkit-text-stroke:0.25px #c6c17c;">RANGE</div>
<div class="t" style="top:674.57px;font-size:9.6px;color:#c6c17c;font-weight:bold;letter-spacing:-0.3px;right:576.12px;text-align:right;-webkit-text-stroke:0.25px #c6c17c;">LOW</div>
<div class="t" style="top:755.14px;font-size:10px;color:#c6c17c;font-weight:bold;transform:scaleX(0.865);transform-origin:right center;letter-spacing:-0.15px;right:576.84px;text-align:right;-webkit-text-stroke:0.25px #c6c17c;">REFERENCE</div>
<div class="t" style="top:764.84px;font-size:10px;color:#c6c17c;font-weight:bold;transform:scaleX(0.865);transform-origin:right center;letter-spacing:0.2px;right:576.31px;text-align:right;-webkit-text-stroke:0.25px #c6c17c;">RANGE</div>
</div></body></html>
